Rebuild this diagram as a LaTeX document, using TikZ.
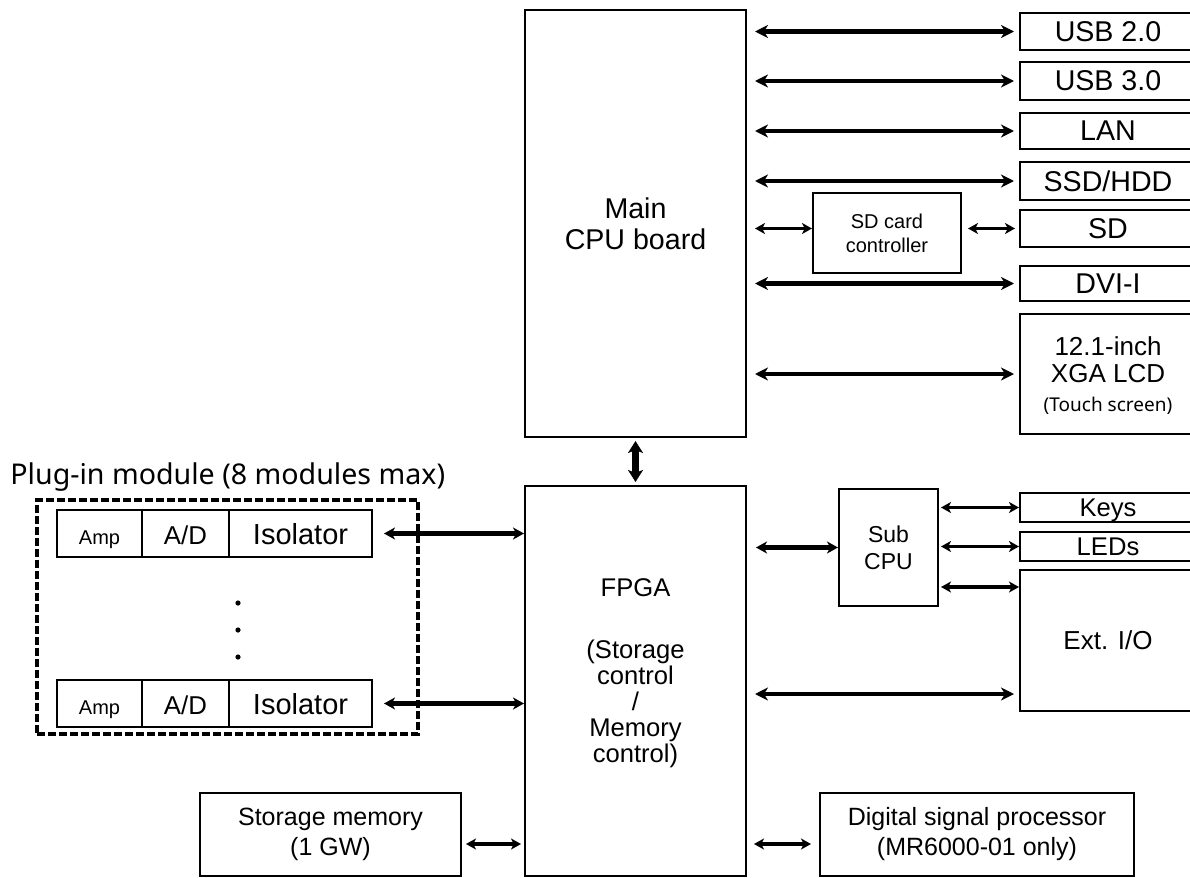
\documentclass[tikz,border=0pt]{standalone}
\usepackage{fontspec}
\setmainfont{Liberation Sans}
\newfontfamily\notofont{Noto Sans}
\usetikzlibrary{arrows.meta}

\begin{document}
\begin{tikzpicture}[x=0.5pt,y=-0.5pt,
    blk/.style={draw,line width=1pt,inner sep=0pt,align=center,font=\fontsize{14.3}{15.5}\selectfont},
    port/.style={blk,minimum width=88pt,text depth=0pt},
    cell/.style={blk,minimum height=23.5pt,text height=10.5pt,text depth=0pt},
    arr/.style={{Stealth[length=6.5pt,width=6.5pt,inset=2pt]}-{Stealth[length=6.5pt,width=6.5pt,inset=2pt]},line width=2.4pt,shorten <=4pt,shorten >=2.5pt},
    marr/.style={{Stealth[length=5.5pt,width=6pt,inset=1.6pt]}-{Stealth[length=5.5pt,width=6pt,inset=1.6pt]},line width=2.1pt},
    sarr/.style={{Stealth[length=5pt,width=5.5pt,inset=1.4pt]}-{Stealth[length=5pt,width=5.5pt,inset=1.4pt]},line width=1.9pt},
    varr/.style={{Stealth[length=6pt,width=7.5pt,inset=1.5pt]}-{Stealth[length=6pt,width=7.5pt,inset=1.5pt]},line width=3.4pt,shorten <=1.5pt,shorten >=1.5pt}
  ]
    \useasboundingbox (0,0) rectangle (1190,878);
    \clip (0,0) rectangle (1190,878);
    \node[blk,minimum width=110.5pt,minimum height=213.5pt] (main) at (635.5,223.5) {Main\\CPU board};
    \node[blk,minimum width=110.5pt,minimum height=195pt] (fpga) at (635.5,681) {};
    \node[align=center,font=\fontsize{12.8}{13}\selectfont] (fpgatxt) at (635.5,673) {FPGA\\[18pt](Storage\\control\\/\\Memory\\control)};
    \node[port,minimum height=18.5pt] (usb2) at (1108,31.5) {USB 2.0};
    \node[port,minimum height=19pt] (usb3) at (1108,81) {USB 3.0};
    \node[port,minimum height=18pt] (lan) at (1108,131) {LAN};
    \node[port,minimum height=19pt] (ssd) at (1108,181) {SSD/HDD};
    \node[port,minimum height=18.5pt] (sd) at (1108,228.5) {SD};
    \node[port,minimum height=17.5pt] (dvi) at (1108,283.5) {DVI-I};
    \node[port,minimum height=60pt,font=\fontsize{13}{13.5}\selectfont] (lcd) at (1108,374) {12.1-inch\\XGA LCD\\[1pt]{\notofont\fontsize{9.5}{11}\selectfont (Touch screen)}};
    \node[blk,minimum width=74pt,minimum height=40pt,font=\fontsize{10}{12}\selectfont] (sdc) at (887,233) {SD card\\controller};
    \node[blk,minimum width=49.5pt,minimum height=58.5pt,font=\fontsize{11.5}{13.5}\selectfont] (subcpu) at (888.5,547.5) {Sub\\CPU};
    \node[port,minimum height=14.5pt,font=\fontsize{12.8}{14}\selectfont] (keys) at (1108,507.5) {Keys};
    \node[port,minimum height=14.5pt,font=\fontsize{12.8}{14}\selectfont] (leds) at (1108,546.5) {LEDs};
    \node[port,minimum height=70.5pt,font=\fontsize{13}{14}\selectfont] (extio) at (1108,640.5) {Ext. I/O};
    \node[anchor=base west,inner sep=0pt,font=\notofont\fontsize{14.3}{16}\selectfont] (plugtitle) at (10,484) {Plug-in module (8 modules max)};
    \node[draw,line width=2.2pt,dash pattern=on 4pt off 1.5pt,minimum width=190.5pt,minimum height=117pt,inner sep=0pt] (plugin) at (227.5,617) {};
    \node[cell,minimum width=42.5pt,font=\fontsize{10}{12}\selectfont] (amp1) at (99.5,533.5) {Amp};
    \node[cell,minimum width=43.5pt,font=\fontsize{12.9}{14}\selectfont] (ad1) at (185.5,533.5) {A/D};
    \node[cell,minimum width=71.5pt,font=\fontsize{14.5}{16}\selectfont] (iso1) at (300.5,533.5) {Isolator};
    \node[cell,minimum width=42.5pt,font=\fontsize{10}{12}\selectfont] (amp2) at (99.5,703.5) {Amp};
    \node[cell,minimum width=43.5pt,font=\fontsize{12.9}{14}\selectfont] (ad2) at (185.5,703.5) {A/D};
    \node[cell,minimum width=71.5pt,font=\fontsize{14.5}{16}\selectfont] (iso2) at (300.5,703.5) {Isolator};
    \foreach \dy in {603,630,657} \fill (238,\dy) circle (1.3pt);
    \node[blk,minimum width=130.5pt,minimum height=41.5pt,font=\fontsize{12.5}{15}\selectfont] (stor) at (330.5,834.5) {Storage memory\\(1 GW)};
    \node[blk,minimum width=157pt,minimum height=41.5pt,font=\fontsize{12.5}{15}\selectfont] (dsp) at (977,834.5) {Digital signal processor\\(MR6000-01 only)};
    \coordinate (ioup) at ([yshift=-9pt]extio.north west);
    \coordinate (iodown) at ([yshift=9pt]extio.south west);
    \coordinate (memlink) at ([yshift=-4.75pt]stor.east);
    \coordinate (dsplink) at ([yshift=-4.75pt]dsp.west);
    \draw[arr] (main.east |- usb2.west) -- (usb2.west); \draw[arr] (main.east |- usb3.west) -- (usb3.west); \draw[arr] (main.east |- lan.west) -- (lan.west);
    \draw[arr] (main.east |- ssd.west) -- (ssd.west); \draw[arr] (main.east |- dvi.west) -- (dvi.west); \draw[arr] (main.east |- lcd.west) -- (lcd.west);
    \draw[sarr,shorten <=4pt] (main.east |- sd.west) -- (sdc.west |- sd.west); \draw[sarr,shorten <=3pt,shorten >=2pt] (sdc.east |- sd.west) -- (sd.west);
    \draw[varr] (main.south) -- (fpga.north);
    \draw[marr,shorten <=5.5pt] (iso1.east) -- (fpga.west |- iso1.east); \draw[marr,shorten <=5.5pt] (iso2.east) -- (fpga.west |- iso2.east);
    \draw[marr,shorten <=4.5pt] (fpga.east |- subcpu.west) -- (subcpu.west); \draw[arr] (fpga.east |- iodown) -- (iodown);
    \draw[sarr,shorten <=1pt] (subcpu.east |- keys.west) -- (keys.west); \draw[sarr,shorten <=1pt] (subcpu.east |- leds.west) -- (leds.west); \draw[sarr,shorten <=1pt] (subcpu.east |- ioup) -- (ioup);
    \draw[sarr,shorten <=2pt,shorten >=1.5pt] (memlink) -- (fpga.west |- memlink); \draw[sarr,shorten <=3.5pt,shorten >=4pt] (fpga.east |- dsplink) -- (dsplink);
  \end{tikzpicture}
\end{document}
